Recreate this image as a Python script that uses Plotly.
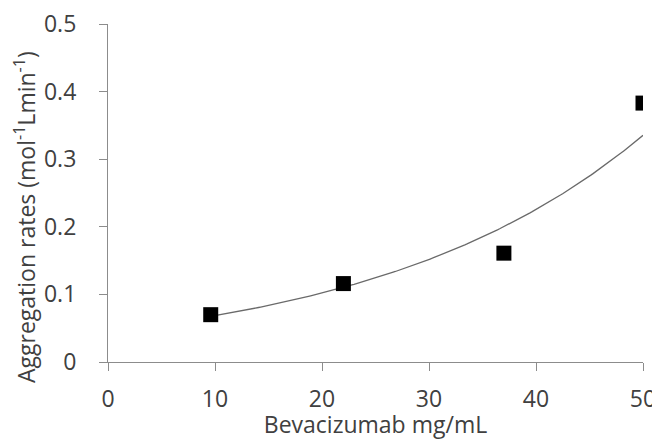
import numpy as np
import plotly.graph_objects as go

# Data
concentration = [9.6, 22.0, 37.0, 50.0]          # Bevacizumab mg/mL
aggregation_rate = [0.070, 0.116, 0.161, 0.383]  # mol^-1 L min^-1

x_ticks = [0, 10, 20, 30, 40, 50]
y_ticks = [0, 0.1, 0.2, 0.3, 0.4, 0.5]
y_tick_labels = ["0", "0.1", "0.2", "0.3", "0.4", "0.5"]

# Exponential trendline fitted to the data (like Excel's exponential trendline)
xa = np.array(concentration)
ya = np.array(aggregation_rate)
b, ln_a = np.polyfit(xa, np.log(ya), 1)
x_fit = np.linspace(xa.min(), xa.max(), 200)
y_fit = np.exp(ln_a) * np.exp(b * x_fit)

FONT = "Open Sans"
TEXT = "#404040"
AXIS = "#8c8c8c"
FS = 23
PAD = "\u00a0\u00a0\u00a0"  # keeps the y labels away from the axis, as in the reference

fig = go.Figure()
fig.add_trace(go.Scatter(
    x=x_fit, y=y_fit, mode="lines",
    line=dict(color="#6a6a6a", width=1.3),
    hoverinfo="skip", showlegend=False,
))
fig.add_trace(go.Scatter(
    x=concentration, y=aggregation_rate, mode="markers",
    marker=dict(symbol="square", size=15, color="black"),
    showlegend=False,
))

# page body has an 8px default margin, so the figure is 8px smaller
fig.update_layout(
    width=652, height=432,
    margin=dict(l=100, r=17, t=16, b=78, autoexpand=False),
    paper_bgcolor="white", plot_bgcolor="white",
    font=dict(family=FONT, size=FS, color=TEXT),
    xaxis=dict(
        range=[0, 50], tickvals=x_ticks, ticktext=[str(v) for v in x_ticks],
        showgrid=False, zeroline=False, automargin=False,
        showline=True, linecolor=AXIS, linewidth=1.3,
        ticks="outside", ticklen=8, tickcolor=AXIS, tickwidth=1.3,
        ticklabelstandoff=8, ticklabeloverflow="allow",
        tickfont=dict(family=FONT, size=FS, color=TEXT),
        title=dict(text="Bevacizumab mg/mL", standoff=6,
                   font=dict(family=FONT, size=FS, color=TEXT)),
    ),
    yaxis=dict(
        range=[0, 0.5], tickvals=y_ticks,
        ticktext=[t + PAD for t in y_tick_labels],
        showgrid=False, zeroline=False, automargin=False,
        showline=True, linecolor=AXIS, linewidth=1.3,
        ticks="outside", ticklen=8, tickcolor=AXIS, tickwidth=1.3,
        ticklabeloverflow="allow",
        tickfont=dict(family=FONT, size=FS, color=TEXT),
    ),
    annotations=[dict(
        text="Aggregation rates (mol<sup>-1</sup>Lmin<sup>-1</sup>)",
        xref="paper", yref="paper", x=0, y=0.5,
        xanchor="center", yanchor="middle",
        xshift=-83, yshift=-24, textangle=-90, showarrow=False,
        font=dict(family=FONT, size=FS, color=TEXT),
    )],
)

fig.write_html("out.html")
